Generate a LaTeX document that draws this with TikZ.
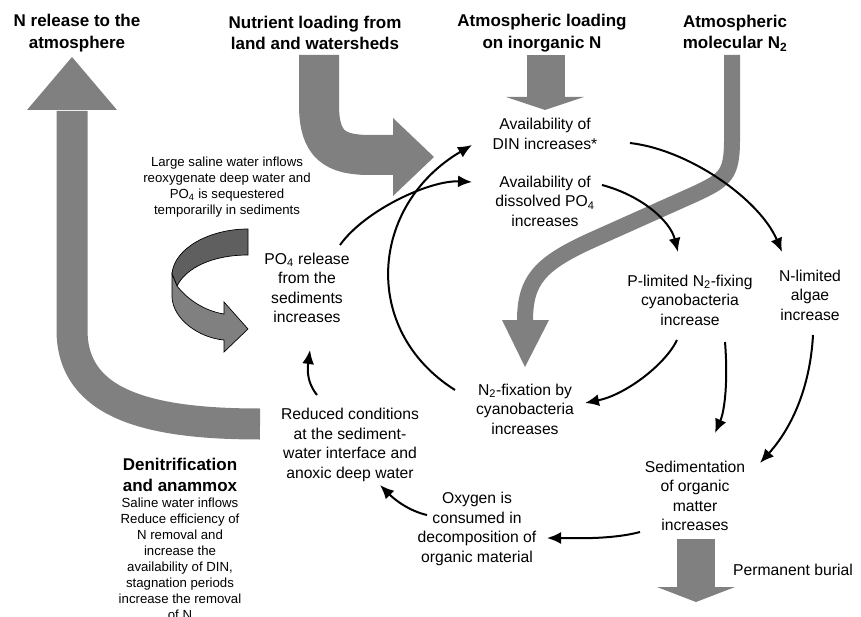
\documentclass[tikz,border=0pt]{standalone}
\usepackage{fontspec}
\setmainfont{Liberation Sans}
\usetikzlibrary{arrows.meta}
\definecolor{bandgray}{HTML}{808080}
\definecolor{foldgray}{HTML}{5F5F5F}

\begin{document}
\begin{tikzpicture}[x=1pt, y=-1pt,
    title/.style={font=\bfseries\fontsize{17}{21.5}\selectfont, align=center, inner sep=0pt},
    proc/.style={font=\fontsize{15.7}{19.5}\selectfont, align=center, inner sep=0pt},
    note/.style={font=\fontsize{13.2}{16}\selectfont, align=center, inner sep=0pt},
    flow/.style={-{Latex[length=14pt,width=12pt]}, line width=2pt},
    band/.style={draw=bandgray, line width=#1},
    band/.default=16
]
\useasboundingbox (0,0) rectangle (861,617);

% Grey flows
\draw[band=31] (72,111) -- (72,330) .. controls (72,405) and (150,424) .. (260,424);
\fill[bandgray] (27,110) -- (72,57) -- (117,110) -- cycle;
\draw[band=40] (319,55) -- (319,105) .. controls (319,145) and (335,155) .. (370,155) -- (394,155);
\fill[bandgray] (393,118) -- (434,157) -- (393,196) -- cycle;
\draw[band=38] (546,55) -- (546,98);
\fill[bandgray] (506,97) -- (545,110) -- (584,97) -- cycle;
\draw[band] (732,55) -- (732,140) .. controls (732,175) and (725,180) .. (695,194)
    -- (590,241) .. controls (540,264) and (525,280) .. (525,321);
\fill[bandgray] (502,320) -- (525,367) -- (549,320) -- cycle;
\draw[band=38] (696,539) -- (696,588);
\fill[bandgray] (657,587) -- (696,602) -- (735,587) -- cycle;

% Twisted arrow
\filldraw[fill=foldgray, draw=black, line width=0.7pt]
    (248,229) .. controls (210,229) and (174,248) .. (172,274)
    -- (177,286) .. controls (186,268) and (212,255) .. (248,255) -- cycle;
\filldraw[fill=bandgray, draw=black, line width=0.7pt]
    (177,286) .. controls (188,300) and (205,311) .. (224,314)
    -- (224,302) -- (248,329) -- (224,352) -- (224,340)
    .. controls (200,338) and (173,320) .. (172,297) -- (172,274) -- cycle;

% Titles
\node[title] (nrel) at (77,33) {N release to the\\atmosphere};
\node[title] (nutr) at (315,33) {Nutrient loading from\\land and watersheds};
\node[title] (atml) at (542,33) {Atmospheric loading\\on inorganic N};
\node[title] (atmn) at (735,33) {Atmospheric\\molecular N\textsubscript{2}};

% Processes
\node[proc] (din) at (545,134) {Availability of\\DIN increases*};
\node[proc] (dpo) at (545,201) {Availability of\\dissolved PO\textsubscript{4}\\increases};
\node[note] (large) at (227,187) {Large saline water inflows\\reoxygenate deep water and\\PO\textsubscript{4} is sequestered\\temporarilly in sediments};
\node[proc] (po4rel) at (307,288) {PO\textsubscript{4} release\\from the\\sediments\\increases};
\node[proc] (plim) at (690,300) {P-limited N\textsubscript{2}-fixing\\cyanobacteria\\increase};
\node[proc] (nlim) at (810,295) {N-limited\\algae\\increase};
\node[proc] (nfix) at (525,409) {N\textsubscript{2}-fixation by\\cyanobacteria\\increases};
\node[proc] (red) at (350,445) {Reduced conditions\\at the sediment-\\water interface and\\anoxic deep water};
\node[proc] (sed) at (695,496) {Sedimentation\\of organic\\matter\\increases};
\node[proc] (oxy) at (477,529) {Oxygen is\\consumed in\\decomposition of\\organic material};
\node[proc] (burial) at (793,570) {Permanent burial};
\node[title] (deni) at (180,475) {Denitrification\\and anammox};
\node[note] (deninote) at (180,559) {Saline water inflows\\Reduce efficiency of\\N removal and\\increase the\\availability of DIN,\\stagnation periods\\increase the removal\\of N};

% Links
\draw[flow] ([shift={(33,-43)}]po4rel.center) .. controls (365,210) and (430,180) .. ([shift={(-73,-19)}]dpo.center);
\draw[flow] ([shift={(-70,-19)}]nfix.center) .. controls (360,330) and (370,205) .. ([shift={(-73,11)}]din.center);
\draw[flow] ([shift={(85,9)}]din.center) .. controls (690,150) and (760,200) .. ([shift={(-28,-43)}]nlim.center);
\draw[flow] ([shift={(57,-16)}]dpo.center) .. controls (640,195) and (670,220) .. ([shift={(-12,-48)}]plim.center);
\draw[flow] ([shift={(-13,40)}]plim.center) .. controls (665,365) and (625,395) .. ([shift={(60,-6)}]nfix.center);
\draw[flow] ([shift={(35,42)}]plim.center) .. controls (728,380) and (725,410) .. ([shift={(20,-63)}]sed.center);
\draw[flow] ([shift={(3,40)}]nlim.center) .. controls (810,390) and (790,430) .. ([shift={(65,-33)}]sed.center);
\draw[flow] ([shift={(-55,36)}]sed.center) .. controls (610,540) and (570,538) .. ([shift={(70,9)}]oxy.center);
\draw[flow] ([shift={(-50,-14)}]oxy.center) .. controls (405,510) and (390,495) .. ([shift={(30,40)}]red.center);
\draw[flow] ([shift={(-33,-50)}]red.center) .. controls (305,380) and (308,365) .. ([shift={(3,62)}]po4rel.center);
\end{tikzpicture}
\end{document}
